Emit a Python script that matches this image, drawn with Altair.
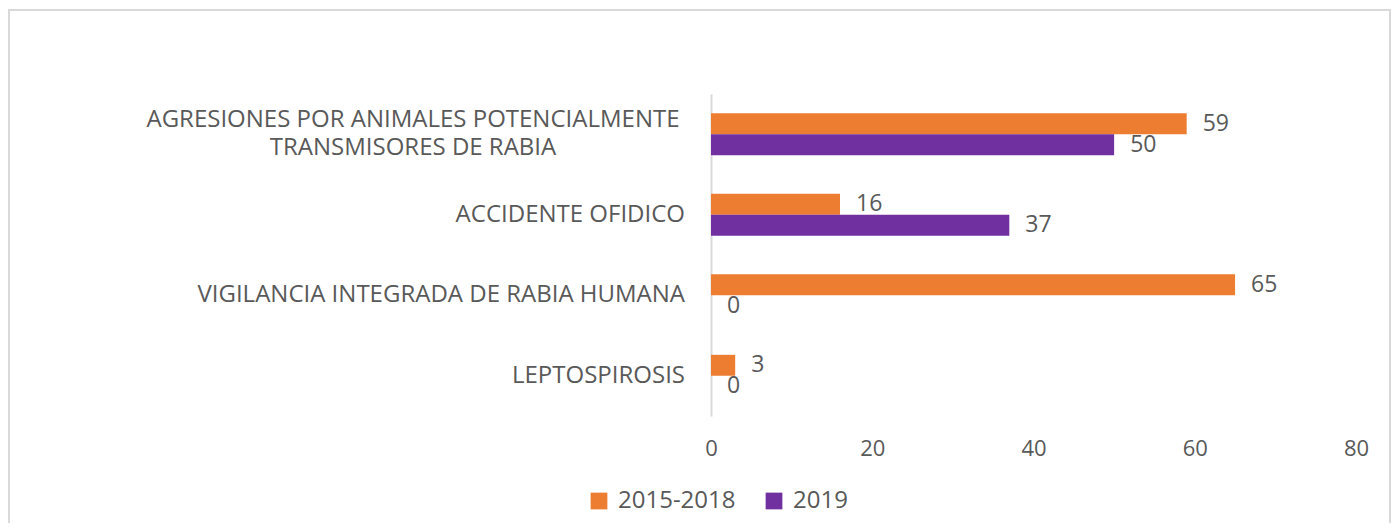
import altair as alt
import pandas as pd

categories = [
    "AGRESIONES POR ANIMALES POTENCIALMENTE TRANSMISORES DE RABIA",
    "ACCIDENTE OFIDICO",
    "VIGILANCIA INTEGRADA DE RABIA HUMANA",
    "LEPTOSPIROSIS",
]
label_line1 = [
    "AGRESIONES POR ANIMALES POTENCIALMENTE",
    "ACCIDENTE OFIDICO",
    "VIGILANCIA INTEGRADA DE RABIA HUMANA",
    "LEPTOSPIROSIS",
]
label_line2 = ["TRANSMISORES DE RABIA", "", "", ""]
series = ["2015-2018", "2019"]
values_2015_2018 = [59, 16, 65, 3]
values_2019 = [50, 37, 0, 0]
x_ticks = [0, 20, 40, 60, 80]
colors = ["#ED7D31", "#7030A0"]

FONT = "Open Sans"
GRAY = "#595959"

rows = []
for c, a, b in zip(categories, values_2015_2018, values_2019):
    rows.append({"cat": c, "serie": series[0], "val": a})
    rows.append({"cat": c, "serie": series[1], "val": b})
df = pd.DataFrame(rows)

lab_df = pd.DataFrame({"cat": categories, "l1": label_line1, "l2": label_line2,
                       "multi": [l != "" for l in label_line2]})

yenc = alt.Y("cat:N", sort=categories,
             scale=alt.Scale(paddingInner=0.48, paddingOuter=0.24),
             axis=alt.Axis(labels=False, ticks=False, title=None,
                           domainColor="#d9d9d9", domainWidth=2, grid=False))
xenc = alt.X("val:Q", scale=alt.Scale(domain=[0, 80]),
             axis=alt.Axis(values=x_ticks, grid=False, domain=False, ticks=False,
                           title=None, labelFont=FONT, labelFontSize=22,
                           labelColor=GRAY, labelPadding=22, labelFlush=False))
yoff = alt.YOffset("serie:N", sort=series)
ycat = alt.Y("cat:N", sort=categories)

bars = alt.Chart(df).mark_bar().encode(
    y=yenc, x=xenc, yOffset=yoff,
    color=alt.Color("serie:N", sort=series,
                    scale=alt.Scale(domain=series, range=colors),
                    legend=alt.Legend(title=None, orient="none", direction="horizontal",
                                      legendX=-124, legendY=395,
                                      symbolType="square", symbolSize=280,
                                      symbolStrokeWidth=0,
                                      labelFont=FONT, labelFontSize=24, labelColor=GRAY,
                                      columnPadding=26, labelOffset=7)),
)

values_text = alt.Chart(df).mark_text(
    align="left", baseline="middle", dx=16, font=FONT, fontSize=23, color=GRAY
).encode(y=ycat, x="val:Q", yOffset=yoff, text="val:Q")

single = alt.Chart(lab_df).transform_filter("!datum.multi").mark_text(
    align="right", baseline="middle", font=FONT, fontSize=24, color=GRAY
).encode(y=ycat, x=alt.value(-26), text="l1:N")

multi1 = alt.Chart(lab_df).transform_filter("datum.multi").mark_text(
    align="center", baseline="middle", font=FONT, fontSize=24, color=GRAY, dy=-14.5
).encode(y=ycat, x=alt.value(-298), text="l1:N")

multi2 = alt.Chart(lab_df).transform_filter("datum.multi").mark_text(
    align="center", baseline="middle", font=FONT, fontSize=24, color=GRAY, dy=14
).encode(y=ycat, x=alt.value(-298), text="l2:N")

border = alt.Chart(pd.DataFrame({"a": [0]})).mark_rect(
    fill=None, stroke="#d9d9d9", strokeWidth=2
).encode(x=alt.value(-702), x2=alt.value(679), y=alt.value(-84), y2=alt.value(460))

chart = alt.layer(border, bars, values_text, single, multi1, multi2).properties(
    width=645, height=322,
    autosize=alt.AutoSizeParams(type="none"),
    padding={"left": 703, "top": 86, "right": 36, "bottom": 107},
).configure(background="white").configure_view(stroke=None)

chart.save("out.html", embed_options={"renderer": "svg", "actions": False})
